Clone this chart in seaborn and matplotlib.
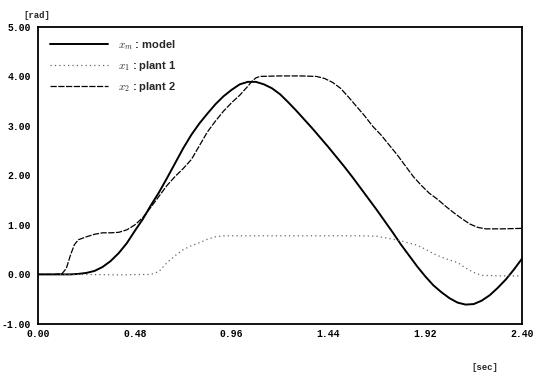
import pandas as pd
import matplotlib
matplotlib.use("Agg")
import matplotlib.pyplot as plt
import seaborn as sns

# model response x_m (solid, thick)
t_model = [0.00, 0.08, 0.16, 0.20, 0.24, 0.28, 0.32, 0.36, 0.40, 0.44, 0.48, 0.52,
           0.56, 0.60, 0.64, 0.68, 0.72, 0.76, 0.80, 0.84, 0.88, 0.92, 0.96, 1.00,
           1.04, 1.08, 1.12, 1.16, 1.20, 1.24, 1.28, 1.32, 1.36, 1.40, 1.44, 1.48,
           1.52, 1.56, 1.60, 1.64, 1.68, 1.72, 1.76, 1.80, 1.84, 1.88, 1.92, 1.96,
           2.00, 2.04, 2.08, 2.12, 2.16, 2.20, 2.24, 2.28, 2.32, 2.36, 2.40]
x_model = [0.00, 0.00, 0.00, 0.01, 0.03, 0.07, 0.15, 0.27, 0.43, 0.63, 0.88, 1.12,
           1.40, 1.66, 1.95, 2.25, 2.55, 2.82, 3.05, 3.25, 3.44, 3.60, 3.73, 3.84,
           3.89, 3.89, 3.84, 3.76, 3.64, 3.48, 3.31, 3.13, 2.95, 2.76, 2.57, 2.37,
           2.17, 1.96, 1.74, 1.52, 1.30, 1.07, 0.84, 0.60, 0.38, 0.16, -0.04, -0.22,
           -0.36, -0.48, -0.57, -0.61, -0.60, -0.53, -0.42, -0.27, -0.10, 0.10, 0.32]

# plant 1 response x_1 (dotted)
t_plant1 = [0.00, 0.20, 0.40, 0.56, 0.60, 0.64, 0.68, 0.72, 0.76, 0.80, 0.84, 0.88,
            0.92, 1.00, 1.20, 1.40, 1.60, 1.68, 1.72, 1.76, 1.80, 1.84, 1.88, 1.92,
            1.96, 2.00, 2.04, 2.08, 2.12, 2.16, 2.20, 2.30, 2.40]
x_plant1 = [0.00, 0.00, -0.01, 0.00, 0.06, 0.24, 0.38, 0.50, 0.58, 0.64, 0.71, 0.76,
            0.78, 0.78, 0.78, 0.78, 0.78, 0.77, 0.74, 0.71, 0.68, 0.63, 0.59, 0.51,
            0.42, 0.35, 0.29, 0.24, 0.13, 0.04, -0.02, -0.03, -0.03]

# plant 2 response x_2 (dashed)
t_plant2 = [0.00, 0.04, 0.08, 0.12, 0.14, 0.16, 0.18, 0.20, 0.24, 0.28, 0.32, 0.36,
            0.40, 0.44, 0.48, 0.52, 0.56, 0.60, 0.64, 0.68, 0.72, 0.76, 0.80, 0.84,
            0.88, 0.92, 0.96, 1.00, 1.04, 1.06, 1.08, 1.10, 1.20, 1.30, 1.38, 1.42,
            1.46, 1.50, 1.54, 1.58, 1.62, 1.66, 1.70, 1.74, 1.78, 1.82, 1.86, 1.90,
            1.94, 1.98, 2.02, 2.06, 2.10, 2.14, 2.18, 2.22, 2.30, 2.40]
x_plant2 = [0.00, 0.00, 0.00, 0.02, 0.12, 0.38, 0.60, 0.70, 0.76, 0.81, 0.84, 0.84,
            0.85, 0.90, 1.00, 1.15, 1.36, 1.58, 1.80, 1.98, 2.14, 2.32, 2.60, 2.88,
            3.10, 3.30, 3.47, 3.62, 3.80, 3.90, 3.97, 4.00, 4.01, 4.01, 4.00, 3.96,
            3.88, 3.76, 3.58, 3.39, 3.20, 2.99, 2.82, 2.62, 2.42, 2.20, 1.98, 1.80,
            1.64, 1.52, 1.38, 1.25, 1.13, 1.02, 0.95, 0.92, 0.92, 0.93]

x_ticks = [0.00, 0.48, 0.96, 1.44, 1.92, 2.40]
y_ticks = [-1.00, 0.00, 1.00, 2.00, 3.00, 4.00, 5.00]
labels = ["$x_m$ : model", "$x_1$ : plant 1", "$x_2$ : plant 2"]

sns.set_style("white")
plt.rcParams["mathtext.fontset"] = "cm"
plt.rcParams["font.family"] = ["Liberation Sans", "DejaVu Sans"]

fig = plt.figure(figsize=(5.36, 3.74), dpi=100)
ax = fig.add_axes([0.071, 0.134, 0.903, 0.794])

df_m = pd.DataFrame({"t": t_model, "x": x_model})
df_1 = pd.DataFrame({"t": t_plant1, "x": x_plant1})
df_2 = pd.DataFrame({"t": t_plant2, "x": x_plant2})

sns.lineplot(data=df_m, x="t", y="x", ax=ax, color="black", lw=1.4, label=labels[0])
sns.lineplot(data=df_1, x="t", y="x", ax=ax, color="#666666", lw=0.9,
             linestyle=(0, (1, 2.5)), label=labels[1])
sns.lineplot(data=df_2, x="t", y="x", ax=ax, color="black", lw=0.9,
             linestyle=(0, (5, 1.2)), label=labels[2])

ax.set_xlim(0, 2.4)
ax.set_ylim(-1, 5)
ax.set_xticks(x_ticks)
ax.set_yticks(y_ticks)
ax.set_xticklabels([f"{v:.2f}" for v in x_ticks], family="Liberation Mono",
                   fontsize=7, fontweight="bold")
ax.set_yticklabels([f"{v:.2f}" for v in y_ticks], family="Liberation Mono",
                   fontsize=7, fontweight="bold")
ax.tick_params(axis="both", direction="in", length=3, width=0.8, colors="black")
ax.tick_params(axis="x", pad=4)
ax.tick_params(axis="y", pad=5)
ax.set_xlabel("")
ax.set_ylabel("")
for s in ax.spines.values():
    s.set_color("black")
    s.set_linewidth(1.3)

leg = ax.legend(loc="upper left", bbox_to_anchor=(0.025, 0.962), frameon=False,
                borderpad=0, borderaxespad=0, handlelength=5.2, handletextpad=0.9,
                labelspacing=0.62, prop={"size": 8, "weight": "bold"})

fig.text(23 / 536, 1 - 15 / 374, "[rad]", family="Liberation Mono", fontsize=6.5,
         fontweight="bold", va="center", ha="left")
fig.text(485 / 536, 1 - 368 / 374, "[sec]", family="Liberation Mono", fontsize=6.5,
         fontweight="bold", va="center", ha="center")

fig.savefig("out.png", dpi=100)
